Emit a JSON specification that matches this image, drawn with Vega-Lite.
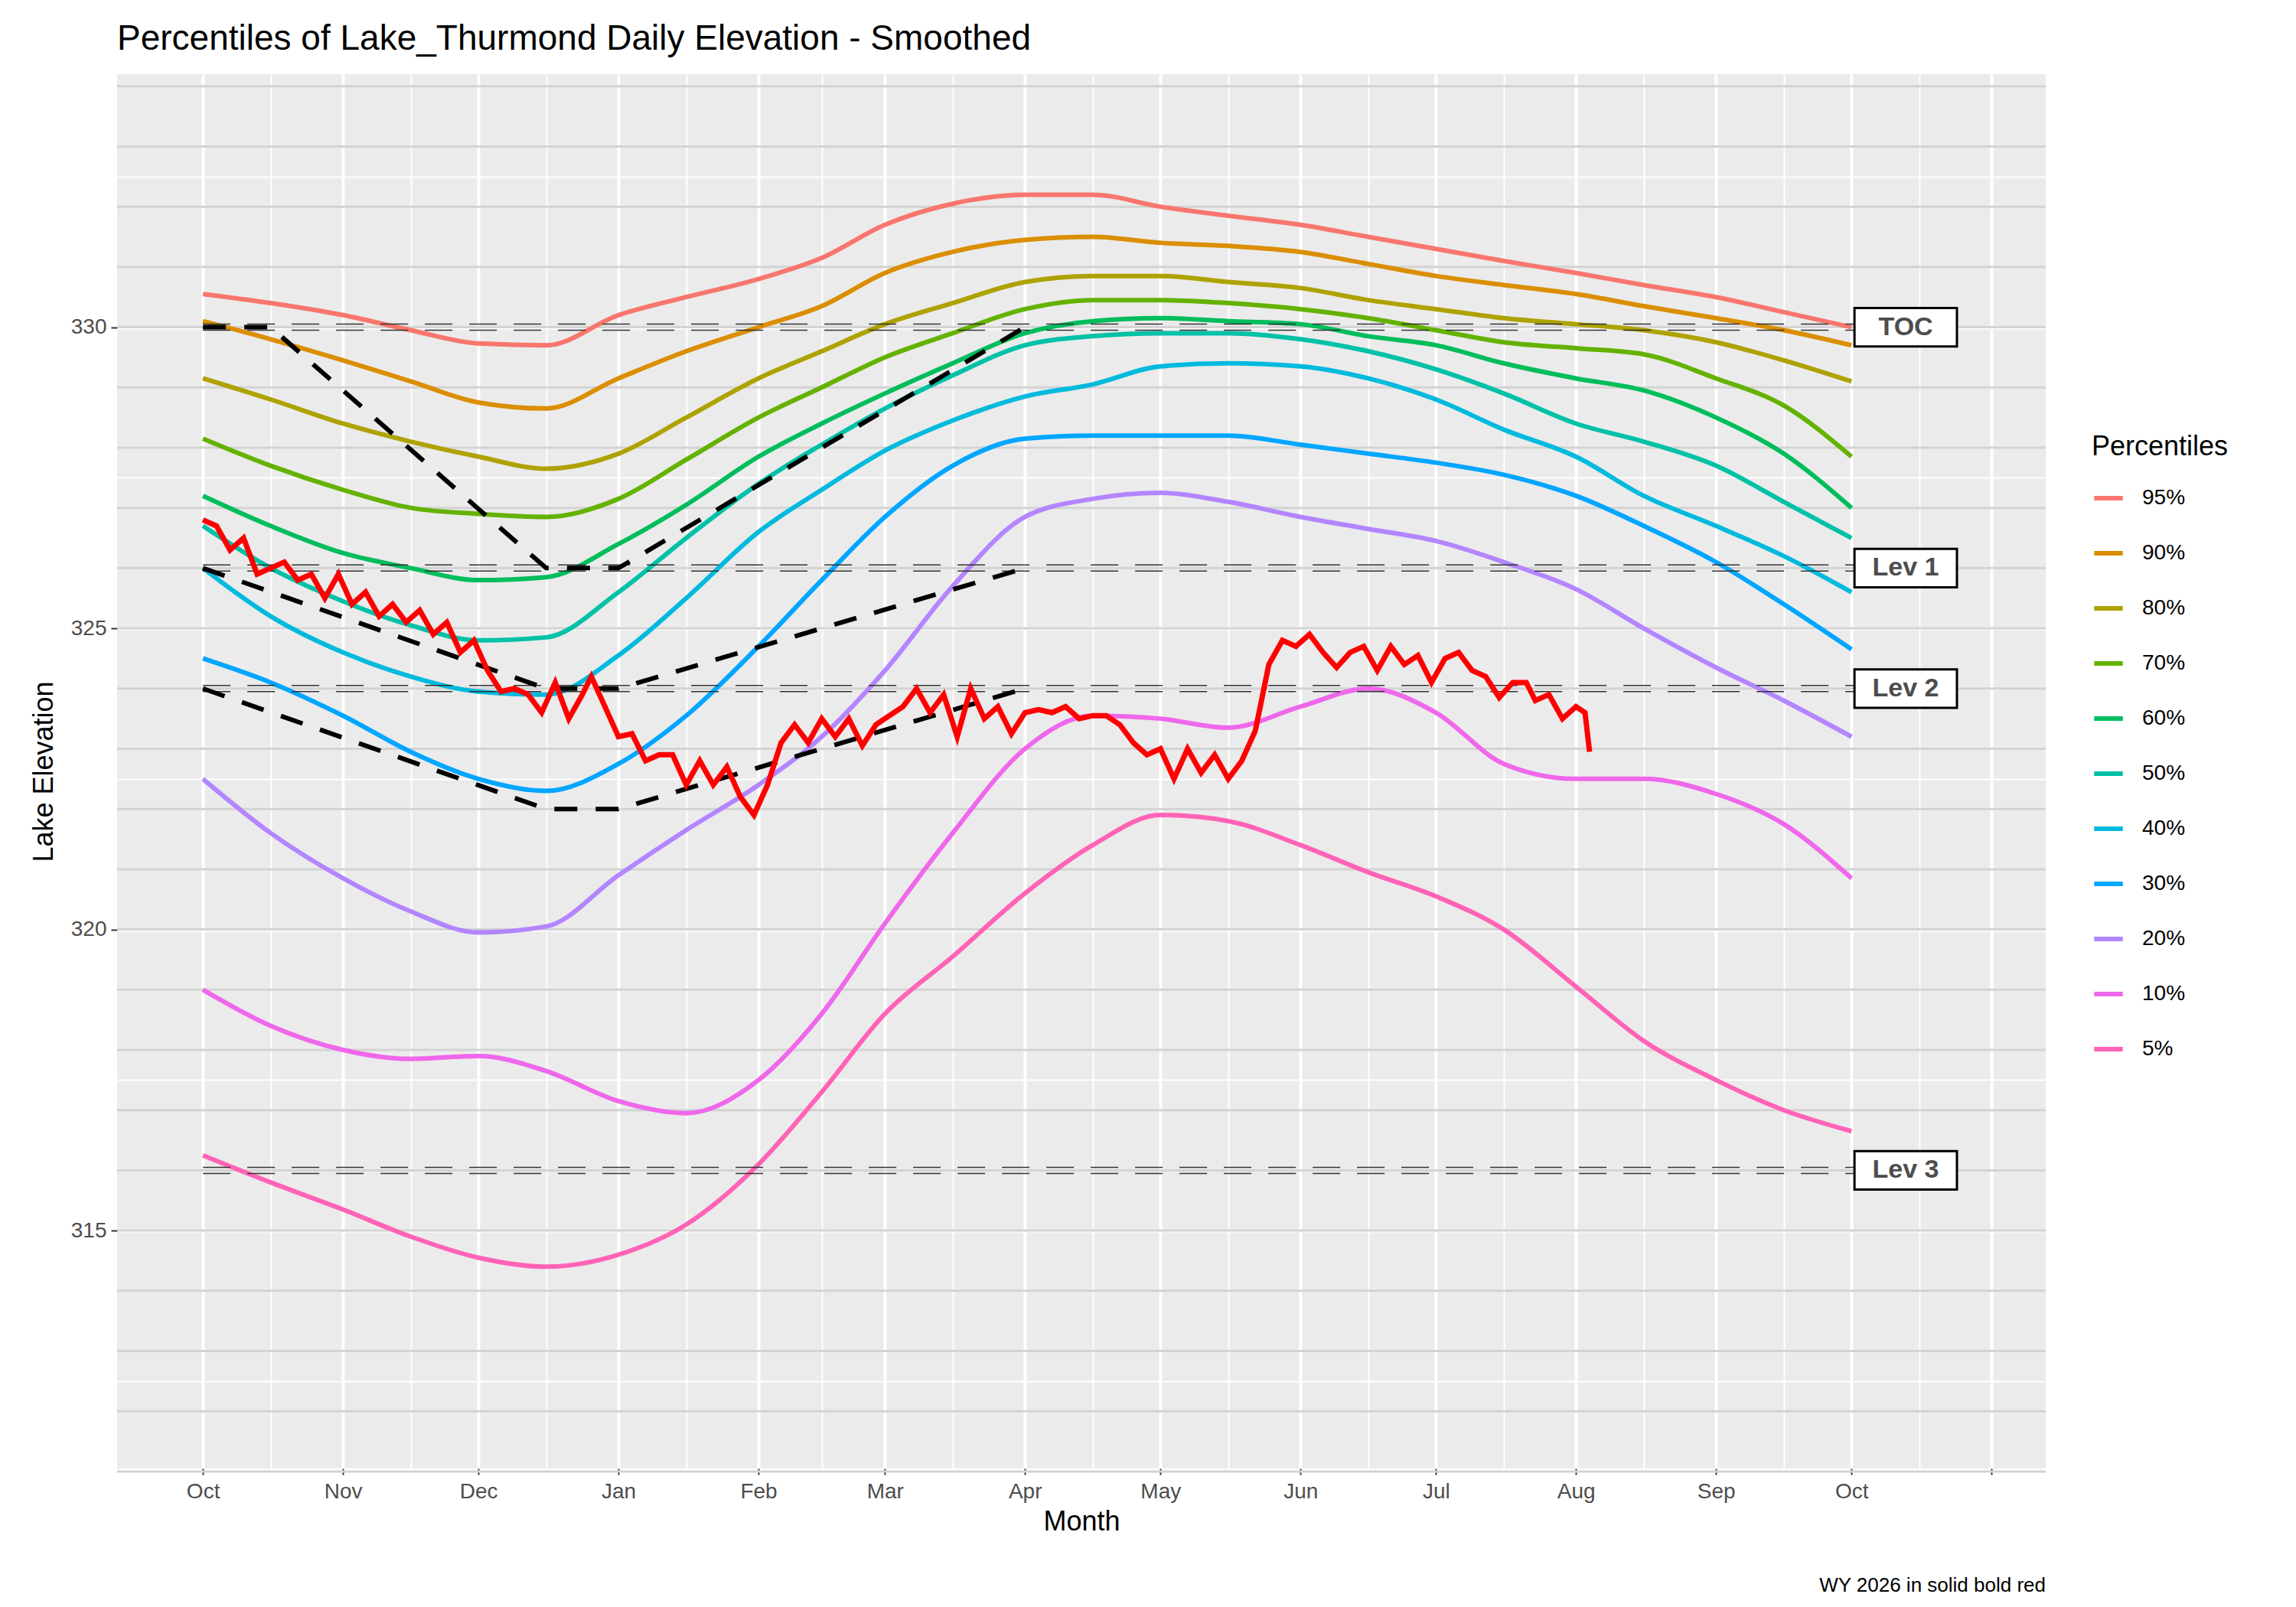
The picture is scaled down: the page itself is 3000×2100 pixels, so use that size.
{
  "$schema": "https://vega.github.io/schema/vega-lite/v6.json",
  "autosize": "none",
  "width": 2520,
  "height": 1822,
  "padding": {"left": 153, "top": 97, "right": 327, "bottom": 181},
  "background": "white",
  "config": {"font": "Liberation Sans", "view": {"fill": "#EBEBEB", "stroke": null}},
  "title": {"text": "Percentiles of Lake_Thurmond Daily Elevation - Smoothed", "fontSize": 46, "fontWeight": "normal", "anchor": "start", "frame": "group", "offset": 22, "color": "black"},
  "datasets": {
    "pct": [
      {"d":0,"p95":330.55,"p90":330.1,"p80":329.15,"p70":328.15,"p60":327.2,"p50":326.7,"p40":326.0,"p30":324.5,"p20":322.5,"p10":319.0,"p5":316.25},
      {"d":15,"p95":330.4,"p90":329.8,"p80":328.8,"p70":327.7,"p60":326.7,"p50":326.0,"p40":325.2,"p30":324.1,"p20":321.6,"p10":318.4,"p5":315.8},
      {"d":31,"p95":330.2,"p90":329.45,"p80":328.4,"p70":327.3,"p60":326.25,"p50":325.45,"p40":324.6,"p30":323.55,"p20":320.85,"p10":318.0,"p5":315.35},
      {"d":46,"p95":329.95,"p90":329.1,"p80":328.1,"p70":327.0,"p60":326.0,"p50":325.05,"p40":324.2,"p30":322.95,"p20":320.3,"p10":317.85,"p5":314.9},
      {"d":61,"p95":329.73,"p90":328.75,"p80":327.85,"p70":326.9,"p60":325.8,"p50":324.8,"p40":323.95,"p30":322.5,"p20":319.95,"p10":317.9,"p5":314.55},
      {"d":76,"p95":329.7,"p90":328.65,"p80":327.65,"p70":326.85,"p60":325.85,"p50":324.85,"p40":323.9,"p30":322.3,"p20":320.05,"p10":317.65,"p5":314.4},
      {"d":92,"p95":330.2,"p90":329.15,"p80":327.9,"p70":327.15,"p60":326.4,"p50":325.6,"p40":324.55,"p30":322.75,"p20":320.9,"p10":317.15,"p5":314.6},
      {"d":107,"p95":330.5,"p90":329.6,"p80":328.5,"p70":327.8,"p60":327.05,"p50":326.5,"p40":325.5,"p30":323.55,"p20":321.65,"p10":316.95,"p5":315.1},
      {"d":123,"p95":330.8,"p90":330.0,"p80":329.15,"p70":328.5,"p60":327.85,"p50":327.4,"p40":326.6,"p30":324.7,"p20":322.4,"p10":317.5,"p5":316.1},
      {"d":137,"p95":331.15,"p90":330.35,"p80":329.6,"p70":329.0,"p60":328.4,"p50":328.05,"p40":327.3,"p30":325.8,"p20":323.2,"p10":318.6,"p5":317.3},
      {"d":151,"p95":331.7,"p90":330.9,"p80":330.05,"p70":329.5,"p60":328.9,"p50":328.65,"p40":327.95,"p30":326.85,"p20":324.3,"p10":320.1,"p5":318.6},
      {"d":166,"p95":332.05,"p90":331.25,"p80":330.4,"p70":329.9,"p60":329.4,"p50":329.2,"p40":328.45,"p30":327.7,"p20":325.7,"p10":321.6,"p5":319.55},
      {"d":182,"p95":332.2,"p90":331.45,"p80":330.75,"p70":330.3,"p60":329.9,"p50":329.7,"p40":328.85,"p30":328.15,"p20":326.85,"p10":323.0,"p5":320.6},
      {"d":197,"p95":332.2,"p90":331.5,"p80":330.85,"p70":330.45,"p60":330.1,"p50":329.85,"p40":329.05,"p30":328.2,"p20":327.15,"p10":323.55,"p5":321.4},
      {"d":212,"p95":332.0,"p90":331.4,"p80":330.85,"p70":330.45,"p60":330.15,"p50":329.9,"p40":329.35,"p30":328.2,"p20":327.25,"p10":323.5,"p5":321.9},
      {"d":227,"p95":331.85,"p90":331.35,"p80":330.75,"p70":330.4,"p60":330.1,"p50":329.9,"p40":329.4,"p30":328.2,"p20":327.1,"p10":323.35,"p5":321.8},
      {"d":243,"p95":331.7,"p90":331.25,"p80":330.65,"p70":330.3,"p60":330.05,"p50":329.8,"p40":329.35,"p30":328.05,"p20":326.85,"p10":323.7,"p5":321.4},
      {"d":258,"p95":331.5,"p90":331.05,"p80":330.45,"p70":330.15,"p60":329.85,"p50":329.6,"p40":329.15,"p30":327.9,"p20":326.65,"p10":324.0,"p5":320.95},
      {"d":273,"p95":331.3,"p90":330.85,"p80":330.3,"p70":329.95,"p60":329.7,"p50":329.3,"p40":328.8,"p30":327.75,"p20":326.45,"p10":323.6,"p5":320.55},
      {"d":288,"p95":331.1,"p90":330.7,"p80":330.15,"p70":329.75,"p60":329.4,"p50":328.9,"p40":328.3,"p30":327.55,"p20":326.1,"p10":322.75,"p5":320.0},
      {"d":304,"p95":330.9,"p90":330.55,"p80":330.05,"p70":329.65,"p60":329.15,"p50":328.4,"p40":327.85,"p30":327.2,"p20":325.65,"p10":322.5,"p5":319.05},
      {"d":319,"p95":330.7,"p90":330.35,"p80":329.95,"p70":329.55,"p60":328.95,"p50":328.1,"p40":327.2,"p30":326.7,"p20":325.0,"p10":322.5,"p5":318.15},
      {"d":335,"p95":330.5,"p90":330.15,"p80":329.75,"p70":329.15,"p60":328.5,"p50":327.7,"p40":326.7,"p30":326.1,"p20":324.35,"p10":322.25,"p5":317.5},
      {"d":350,"p95":330.25,"p90":329.95,"p80":329.45,"p70":328.7,"p60":327.9,"p50":327.1,"p40":326.2,"p30":325.4,"p20":323.8,"p10":321.75,"p5":317.0},
      {"d":365,"p95":330.0,"p90":329.7,"p80":329.1,"p70":327.85,"p60":327.0,"p50":326.5,"p40":325.6,"p30":324.65,"p20":323.2,"p10":320.85,"p5":316.65}
    ],
    "wy": [
      {"d":0,"e":326.8},{"d":3,"e":326.7},{"d":6,"e":326.3},{"d":9,"e":326.5},{"d":12,"e":325.9},{"d":15,"e":326.0},{"d":18,"e":326.1},{"d":21,"e":325.8},{"d":24,"e":325.9},{"d":27,"e":325.5},{"d":30,"e":325.9},{"d":33,"e":325.4},{"d":36,"e":325.6},{"d":39,"e":325.2},{"d":42,"e":325.4},{"d":45,"e":325.1},{"d":48,"e":325.3},{"d":51,"e":324.9},{"d":54,"e":325.1},{"d":57,"e":324.6},{"d":60,"e":324.8},{"d":63,"e":324.3},{"d":66,"e":323.95},{"d":69,"e":324.0},{"d":72,"e":323.9},{"d":75,"e":323.6},{"d":78,"e":324.1},{"d":81,"e":323.5},{"d":84,"e":323.9},{"d":86,"e":324.2},{"d":89,"e":323.7},{"d":92,"e":323.2},{"d":95,"e":323.25},{"d":98,"e":322.8},{"d":101,"e":322.9},{"d":104,"e":322.9},{"d":107,"e":322.4},{"d":110,"e":322.8},{"d":113,"e":322.4},{"d":116,"e":322.7},{"d":119,"e":322.2},{"d":122,"e":321.9},{"d":125,"e":322.4},{"d":128,"e":323.1},{"d":131,"e":323.4},{"d":134,"e":323.1},{"d":137,"e":323.5},{"d":140,"e":323.2},{"d":143,"e":323.5},{"d":146,"e":323.05},{"d":149,"e":323.4},{"d":152,"e":323.55},{"d":155,"e":323.7},{"d":158,"e":324.0},{"d":161,"e":323.6},{"d":164,"e":323.9},{"d":167,"e":323.2},{"d":170,"e":324.0},{"d":173,"e":323.5},{"d":176,"e":323.7},{"d":179,"e":323.25},{"d":182,"e":323.6},{"d":185,"e":323.65},{"d":188,"e":323.6},{"d":191,"e":323.7},{"d":194,"e":323.5},{"d":197,"e":323.55},{"d":200,"e":323.55},{"d":203,"e":323.4},{"d":206,"e":323.1},{"d":209,"e":322.9},{"d":212,"e":323.0},{"d":215,"e":322.5},{"d":218,"e":323.0},{"d":221,"e":322.6},{"d":224,"e":322.9},{"d":227,"e":322.5},{"d":230,"e":322.8},{"d":233,"e":323.3},{"d":236,"e":324.4},{"d":239,"e":324.8},{"d":242,"e":324.7},{"d":245,"e":324.9},{"d":248,"e":324.6},{"d":251,"e":324.35},{"d":254,"e":324.6},{"d":257,"e":324.7},{"d":260,"e":324.3},{"d":263,"e":324.7},{"d":266,"e":324.4},{"d":269,"e":324.55},{"d":272,"e":324.1},{"d":275,"e":324.5},{"d":278,"e":324.6},{"d":281,"e":324.3},{"d":284,"e":324.2},{"d":287,"e":323.85},{"d":290,"e":324.1},{"d":293,"e":324.1},{"d":295,"e":323.8},{"d":298,"e":323.9},{"d":301,"e":323.5},{"d":304,"e":323.7},{"d":306,"e":323.6},{"d":307,"e":322.95}
    ],
    "guide": [
      {"g":"TOC","d":0,"e":330},{"g":"TOC","d":15,"e":330},{"g":"TOC","d":76,"e":326},{"g":"TOC","d":92,"e":326},{"g":"TOC","d":182,"e":330},
      {"g":"L1","d":0,"e":326},{"g":"L1","d":76,"e":324},{"g":"L1","d":92,"e":324},{"g":"L1","d":182,"e":326},
      {"g":"L2","d":0,"e":324},{"g":"L2","d":76,"e":322},{"g":"L2","d":92,"e":322},{"g":"L2","d":182,"e":324}
    ],
    "levels": [
      {"name":"TOC","e":330},{"name":"Lev 1","e":326},{"name":"Lev 2","e":324},{"name":"Lev 3","e":316}
    ],
    "hgrid": [
      {"e":311},{"e":312},{"e":313},{"e":314},{"e":315},{"e":316},{"e":317},{"e":318},{"e":319},{"e":320},{"e":321},{"e":322},{"e":323},{"e":324},{"e":325},{"e":326},{"e":327},{"e":328},{"e":329},{"e":330},{"e":331},{"e":332},{"e":333},{"e":334}
    ]
  },
  "layer": [
    {
      "data": {"name": "hgrid"},
      "mark": {"type": "rule", "color": "#D3D3D3", "strokeWidth": 3},
      "encoding": {
        "y": {"field": "e", "type": "quantitative", "scale": {"domain": [311.05, 334.2], "nice": false, "zero": false},
          "axis": {"values": [312.5, 315, 317.5, 320, 322.5, 325, 327.5, 330, 332.5], "format": "d", "labelExpr": "datum.value % 5 == 0 ? datum.label : ''", "title": "Lake Elevation", "titleFontSize": 36, "titleFontWeight": "normal", "titleColor": "black", "titlePadding": 16, "labelFontSize": 28, "labelColor": "#4D4D4D", "tickColor": {"condition": {"test": "datum.value % 5 == 0", "value": "#333333"}, "value": "transparent"}, "tickSize": 8, "tickWidth": 2, "labelPadding": 6, "domain": false, "gridColor": "white", "gridWidth": {"condition": {"test": "datum.value % 5 == 0", "value": 4}, "value": 2}}}
      }
    },
    {
      "data": {"name": "pct"},
      "transform": [{"fold": ["p95","p90","p80","p70","p60","p50","p40","p30","p20","p10","p5"], "as": ["p", "e"]}],
      "mark": {"type": "line", "strokeWidth": 6, "interpolate": "monotone"},
      "encoding": {
        "x": {"field": "d", "type": "quantitative", "scale": {"domain": [-19, 408], "nice": false, "zero": false},
          "axis": {"values": [0,15,31,46,61,76,92,107,123,137,151,166,182,197,212,227,243,258,273,288,304,319,335,350,365,380,396],
            "labelExpr": "({'0':'Oct','31':'Nov','61':'Dec','92':'Jan','123':'Feb','151':'Mar','182':'Apr','212':'May','243':'Jun','273':'Jul','304':'Aug','335':'Sep','365':'Oct'})[datum.value] || ''",
            "title": "Month", "titleFontSize": 36, "titleFontWeight": "normal", "titleColor": "black", "titlePadding": 8, "labelFontSize": 28, "labelColor": "#4D4D4D", "labelPadding": 8, "domain": false, "tickSize": 8, "tickWidth": 2,
            "tickColor": {"condition": {"test": "indexof([0,31,61,92,123,151,182,212,243,273,304,335,365,396], datum.value) >= 0", "value": "#333333"}, "value": "transparent"},
            "gridColor": "white", "gridWidth": {"condition": {"test": "indexof([0,31,61,92,123,151,182,212,243,273,304,335,365,396], datum.value) >= 0", "value": 4}, "value": 2}}},
        "y": {"field": "e", "type": "quantitative"},
        "color": {"field": "p", "type": "nominal",
          "scale": {"domain": ["p95","p90","p80","p70","p60","p50","p40","p30","p20","p10","p5"], "range": ["#F8766D","#DB8E00","#AEA200","#64B200","#00BD5C","#00C1A7","#00BADE","#00A6FF","#B385FF","#EF67EB","#FF63B6"]},
          "legend": {"title": "Percentiles", "titleFontSize": 36, "titleFontWeight": "normal", "titleColor": "black", "labelFontSize": 28, "labelColor": "black", "labelExpr": "datum.label == 'p5' ? ' 5%' : replace(datum.label, 'p', '') + '%'", "symbolType": "stroke", "symbolStrokeWidth": 6, "symbolSize": 1400, "rowPadding": 36, "orient": "none", "legendX": 2580, "legendY": 470, "titlePadding": 26, "labelOffset": 22}},
        "detail": {"field": "p"}
      }
    },
    {
      "data": {"name": "levels"},
      "mark": {"type": "rule", "color": "#333333", "strokeWidth": 1.5, "strokeDash": [36, 22], "yOffset": -4},
      "encoding": {"x": {"datum": 0}, "x2": {"datum": 378}, "y": {"field": "e", "type": "quantitative"}}
    },
    {
      "data": {"name": "levels"},
      "mark": {"type": "rule", "color": "#333333", "strokeWidth": 1.5, "strokeDash": [36, 22], "yOffset": 4},
      "encoding": {"x": {"datum": 0}, "x2": {"datum": 378}, "y": {"field": "e", "type": "quantitative"}}
    },
    {
      "data": {"name": "guide"},
      "mark": {"type": "line", "color": "black", "strokeWidth": 6, "strokeDash": [30, 24]},
      "encoding": {"x": {"field": "d", "type": "quantitative"}, "y": {"field": "e", "type": "quantitative"}, "detail": {"field": "g"}}
    },
    {
      "data": {"name": "wy"},
      "mark": {"type": "line", "color": "#FF0000", "strokeWidth": 7},
      "encoding": {"x": {"field": "d", "type": "quantitative"}, "y": {"field": "e", "type": "quantitative"}}
    },
    {
      "data": {"name": "levels"},
      "mark": {"type": "point", "shape": "M-1.6,-0.6L1.6,-0.6L1.6,0.6L-1.6,0.6Z", "size": 7000, "filled": true, "fill": "white", "stroke": "black", "strokeWidth": 3, "opacity": 1},
      "encoding": {"x": {"datum": 377}, "y": {"field": "e", "type": "quantitative"}}
    },
    {
      "data": {"name": "levels"},
      "mark": {"type": "text", "fontSize": 34, "fontWeight": "bold", "color": "#4D4D4D"},
      "encoding": {"x": {"datum": 377}, "y": {"field": "e", "type": "quantitative"}, "text": {"field": "name"}}
    },
    {
      "data": {"values": [{"t": "WY 2026 in solid  bold red"}]},
      "mark": {"type": "text", "fontSize": 26, "align": "right", "baseline": "middle", "clip": false, "color": "black"},
      "encoding": {"x": {"datum": 408}, "y": {"datum": 309.1}, "text": {"field": "t"}}
    }
  ]
}
